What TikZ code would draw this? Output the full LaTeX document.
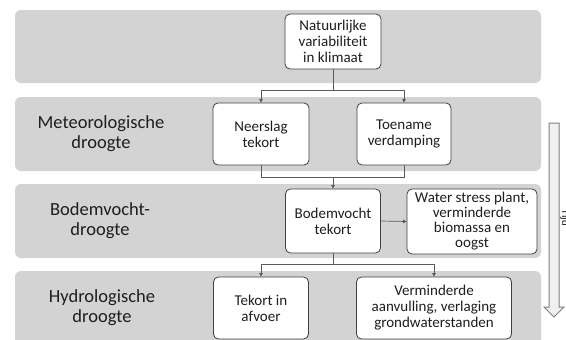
\documentclass[tikz,border=0pt]{standalone}
\usepackage{fontspec}
\setmainfont{Carlito}
\usetikzlibrary{arrows.meta}
\definecolor{bandgray}{RGB}{211,211,211}
\definecolor{boxline}{RGB}{64,64,64}
\definecolor{connc}{RGB}{90,90,90}
\definecolor{txt}{RGB}{30,30,30}
\definecolor{arrowline}{RGB}{128,128,128}
\definecolor{arrowfill}{RGB}{240,240,240}
\begin{document}
\begin{tikzpicture}[x=1pt,y=-1pt,
 band/.style={fill=bandgray, draw=none, rounded corners=6pt},
 stepbox/.style={draw=boxline, line width=0.8pt, fill=white, rounded corners=5pt, align=center, font=\fontsize{15}{16}\selectfont, text=txt, inner sep=1pt},
 lbl/.style={align=center, font=\fontsize{18.5}{20}\selectfont, text=txt},
 conn/.style={draw=connc, line width=0.7pt},
 arr/.style={conn, -{Triangle[length=3.5pt,width=3.5pt]}}]
\path[use as bounding box, fill=white] (0,0) rectangle (566,340);
\clip (0,0) rectangle (566,340);
% bands
\path[band] (15,10) rectangle (541,83);
\path[band] (15,97) rectangle (541,171);
\path[band] (15,184) rectangle (541,258);
\path[band] (15,271) rectangle (541,352);
% labels
\node[lbl] (l2) at (101,134) {Meteorologische\\droogte};
\node[lbl] (l3) at (100,221) {Bodemvocht-\\droogte};
\node[lbl] (l4) at (102,308) {Hydrologische\\droogte};
% boxes
\node[stepbox, minimum width=96pt, minimum height=55pt] (n1) at (333,41.5) {Natuurlijke\\variabiliteit\\in klimaat};
\node[stepbox, minimum width=96pt, minimum height=62pt] (neer) at (261,134) {Neerslag\\tekort};
\node[stepbox, minimum width=94pt, minimum height=62pt] (toe) at (404,134) {Toename\\verdamping};
\node[stepbox, minimum width=95pt, minimum height=64pt] (bod) at (333,221) {Bodemvocht\\tekort};
\node[stepbox, minimum width=130pt, minimum height=65pt, font=\fontsize{15}{15}\selectfont] (ws) at (472,221.5) {Water stress plant,\\verminderde\\biomassa en\\oogst};
\node[stepbox, minimum width=95pt, minimum height=62pt] (tek) at (261,308) {Tekort in\\afvoer};
\node[stepbox, minimum width=155pt, minimum height=62pt] (verm) at (434,308) {Verminderde\\aanvulling, verlaging\\grondwaterstanden};
% connectors
\coordinate (s1) at (333,90);
\coordinate (m2) at (333,177);
\coordinate (s3) at (333,264);
\draw[conn] (n1.south) -- (s1);
\draw[arr] (s1) -| (neer.north);
\draw[arr] (s1) -| (toe.north);
\draw[conn] (neer.south) |- (m2);
\draw[conn] (toe.south) |- (m2);
\draw[arr] (m2) -- (bod.north);
\draw[arr] (bod.east) -- (ws.west);
\draw[conn] (bod.south) -- (s3);
\draw[arr] (s3) -| (tek.north);
\draw[arr] (s3) -| (verm.north);
% time arrow
\path[draw=arrowline, fill=arrowfill, line width=1pt, line join=miter] (549,123) -- (559,123) -- (559,307) -- (564,307) -- (554,317) -- (544,307) -- (549,307) -- cycle;
\node[rotate=-90, anchor=base, font=\fontsize{11}{12}\selectfont, text=txt] (tijd) at (562,218) {Tijd};
\end{tikzpicture}
\end{document}
